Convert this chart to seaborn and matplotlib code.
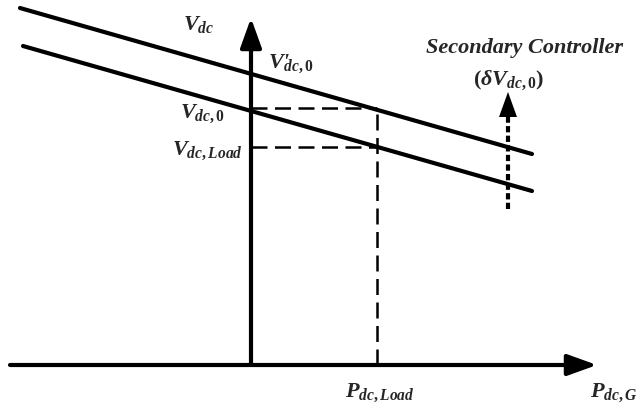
import matplotlib
matplotlib.use("Agg")
import matplotlib.pyplot as plt
import seaborn as sns
import pandas as pd

# Droop characteristics (P_dc,G on x, V_dc on y), schematic units
upper_p = [-2.31, 2.81]          # shifted droop line after secondary control
upper_v = [3.57, 2.11]
lower_p = [-2.28, 2.81]          # primary droop line
lower_v = [3.19, 1.74]

v_dc0_shifted = 2.91             # V'_dc,0
v_dc0 = 2.57                     # V_dc,0 level at the load point
v_dc_load = 2.18                 # V_dc,Load
p_dc_load = 1.26                 # P_dc,Load

axis_p = [-2.41, 3.46]           # horizontal axis extent
axis_v = [0.0, 3.47]             # vertical axis extent
secondary_p = 2.57               # position of the secondary-control arrow
secondary_v = [1.56, 2.73]

sns.set_theme(style="white")
plt.rcParams["mathtext.fontset"] = "custom"
plt.rcParams["mathtext.it"] = "Liberation Serif:italic:bold"
plt.rcParams["mathtext.rm"] = "Liberation Serif:bold"
plt.rcParams["mathtext.bf"] = "Liberation Serif:bold"
plt.rcParams["font.family"] = ["Liberation Serif", "DejaVu Serif"]

fig = plt.figure(figsize=(6.41, 4.10), dpi=100)
ax = fig.add_axes([0, 0, 1, 1])
ax.set_xlim(-2.51, 3.90)
ax.set_ylim(-0.44, 3.66)
ax.axis("off")

lines = pd.DataFrame({
    "P": upper_p + lower_p,
    "V": upper_v + lower_v,
    "curve": ["shifted"] * 2 + ["primary"] * 2,
})
sns.lineplot(data=lines, x="P", y="V", hue="curve", units="curve",
             estimator=None, palette=["black", "black"], linewidth=3.0,
             legend=False, ax=ax, sort=False)
for ln in ax.lines:
    ln.set_solid_capstyle("round")

# axes with arrowheads
arrow_kw = dict(arrowstyle="-|>,head_length=1.0,head_width=0.36",
                lw=3.0, color="black", shrinkA=0, shrinkB=0,
                mutation_scale=18)
ax.annotate("", xy=(axis_p[1], 0), xytext=(axis_p[0], 0),
            arrowprops=arrow_kw)
ax.annotate("", xy=(0, axis_v[1]), xytext=(0, axis_v[0]),
            arrowprops=arrow_kw)

# dashed guides to the operating point
dash_kw = dict(color="black", lw=1.8, dashes=(6.4, 3.0))
ax.plot([0, p_dc_load], [v_dc0, v_dc0], **dash_kw)
ax.plot([0, p_dc_load], [v_dc_load, v_dc_load], **dash_kw)
ax.plot([p_dc_load, p_dc_load], [0, v_dc0], **dash_kw)

# secondary controller shift (dotted arrow)
ax.plot([secondary_p, secondary_p], [secondary_v[0], secondary_v[1] - 0.22],
        color="black", lw=3.0, dashes=(1.5, 0.8))
ax.annotate("", xy=(secondary_p, secondary_v[1]),
            xytext=(secondary_p, secondary_v[1] - 0.24),
            arrowprops=dict(arrowstyle="-|>,head_length=1.0,head_width=0.36",
                            lw=0, color="black", shrinkA=0, shrinkB=0,
                            mutation_scale=18))

fs = 16
ax.text(-0.68, 3.36, r"$V_{\mathit{dc}}$", fontsize=fs, ha="left", va="baseline")
ax.text(0.17, 2.98, "$V\u02b9\\!\\!{}_{\\mathit{dc,0}}$", fontsize=fs,
        ha="left", va="baseline")
ax.text(-0.71, 2.48, r"$V_{\mathit{dc,0}}$", fontsize=fs, ha="left", va="baseline")
ax.text(-0.79, 2.11, r"$V_{\mathit{dc,Load}}$", fontsize=fs, ha="left", va="baseline")
ax.text(2.74, 3.13, "Secondary Controller", fontsize=fs, ha="center",
        va="baseline", fontweight="bold", fontstyle="italic")
ax.text(2.58, 2.81, r"$\mathbf{(}\delta V_{\mathit{dc,0}}\mathbf{)}$", fontsize=fs,
        ha="center", va="baseline")
ax.text(0.94, -0.31, r"$P_{\mathit{dc,Load}}$", fontsize=fs, ha="left", va="baseline")
ax.text(3.39, -0.31, r"$P_{\mathit{dc,G}}$", fontsize=fs, ha="left", va="baseline")

fig.savefig("out.png", dpi=100)
